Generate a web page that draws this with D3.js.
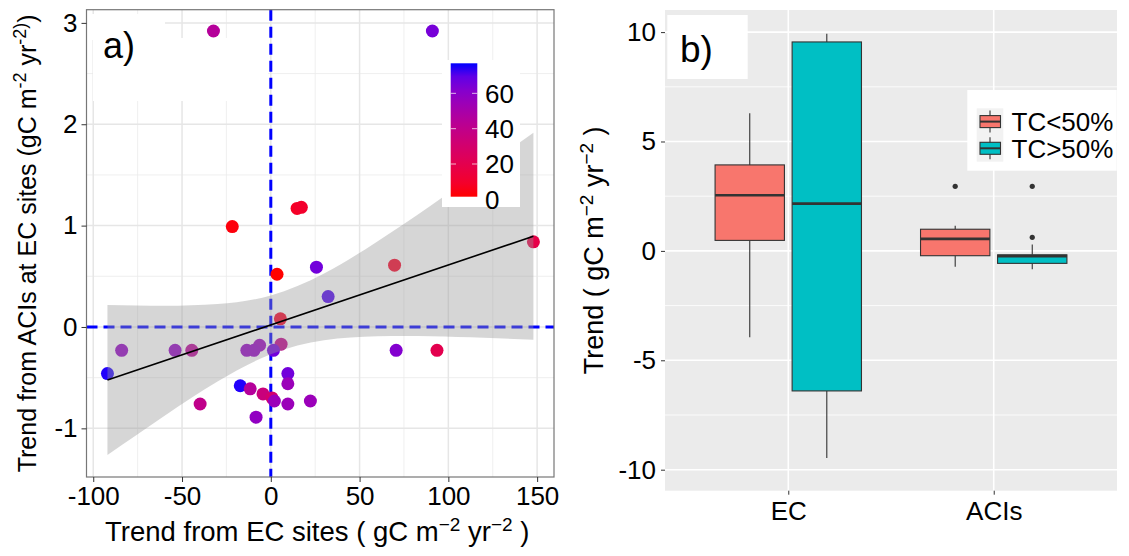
<!DOCTYPE html>
<html>
<head>
<meta charset="utf-8">
<script src="https://cdn.jsdelivr.net/npm/d3@7"></script>
<style>
  html, body { margin: 0; padding: 0; background: #fff; }
  svg text { font-family: "Liberation Sans", Arial, sans-serif; fill: #000; }
</style>
</head>
<body>
<div id="chart"></div>
<script>
// ---- panel a: trend from EC sites vs trend from ACIs, coloured by tree cover
var ecTrend   = [-32.3, 91, 14.8, 17.2, -21.7, 147.9, 69.7, 25.7, 3.5, 32.3, 5.4, 5.8, -6.3, -84, -53.9, -44.5, -13.5, -9.5, 1.5, 70.6, 93.6, -92, 9.6, 9.6, -17.2, -11.6, -4.4, 0.7, 2, 22.3, -39.8, 9.6, -8.3];
var aciTrend  = [2.92, 2.92, 1.17, 1.18, 0.99, 0.84, 0.61, 0.59, 0.52, 0.30, 0.08, -0.17, -0.18, -0.23, -0.23, -0.23, -0.23, -0.23, -0.23, -0.23, -0.23, -0.46, -0.46, -0.56, -0.58, -0.61, -0.66, -0.70, -0.73, -0.73, -0.76, -0.76, -0.89];
var treeCover = [45, 65, 8, 10, 3, 18, 8, 66, 1, 72, 8, 40, 56, 58, 58, 44, 58, 58, 66, 62, 20, 76, 66, 55, 76, 45, 35, 30, 55, 55, 40, 55, 58];

// fitted line and its confidence band
var fitX = [-92, 147.9];
var fitY = [-0.523, 0.895];
var bandX    = [-92, -60, -30, 0, 30, 60, 90, 120, 147.9];
var bandLow  = [-1.263, -0.877, -0.538, -0.269, -0.131, -0.092, -0.091, -0.106, -0.125];
var bandHigh = [0.217, 0.209, 0.226, 0.311, 0.527, 0.844, 1.197, 1.566, 1.915];

var xTicksA = [-100, -50, 0, 50, 100, 150];
var xMinorA = [-75, -25, 25, 75, 125];
var yTicksA = [-1, 0, 1, 2, 3];
var yMinorA = [-0.5, 0.5, 1.5, 2.5];
var colorTicks = [0, 20, 40, 60];

// ---- panel b: boxplots of trends by tree cover class
var categories = ["EC", "ACIs"];
var seriesNames = ["TC<50%", "TC>50%"];
var lowTcMin = [-3.95, -0.73], lowTcQ1 = [0.48, -0.22], lowTcMed = [2.54, 0.55], lowTcQ3 = [3.93, 0.99], lowTcMax = [6.29, 1.15];
var highTcMin = [-9.47, -0.84], highTcQ1 = [-6.4, -0.57], highTcMed = [2.16, -0.24], highTcQ3 = [9.55, -0.18], highTcMax = [9.92, 0.29];
var lowTcOut = [[], [2.95]];
var highTcOut = [[], [2.95, 0.62]];
var yTicksB = [-10, -5, 0, 5, 10];
var yMinorB = [-7.5, -2.5, 2.5, 7.5];
var seriesFill = ["#F8766D", "#00BFC4"];

var svg = d3.select("#chart").append("svg")
  .attr("width", 1129)
  .attr("height", 556);

// writes a label with plotmath-like superscripts
function supLabel(sel, parts, size) {
  var up = Math.round(size * 0.38);
  parts.forEach(function(p, i) {
    var t = sel.append("tspan").text(p[0]);
    if (p[1]) {
      t.attr("font-size", Math.round(size * 0.7)).attr("dy", -up);
    } else if (i > 0 && parts[i - 1][1]) {
      // back to the baseline after a superscript
      t.attr("dy", up);
    }
  });
}

// ****************** panel a ***************************
function drawPanelA() {
  var left = 86.5, right = 554, top = 9.7, bottom = 477;

  var x = d3.scaleLinear().domain([-103.8, 159.5]).range([left, right]);
  var y = d3.scaleLinear().domain([-1.48, 3.13]).range([bottom, top]);
  var color = d3.scaleLinear().domain([1.5, 77]).range(["red", "blue"]).interpolate(d3.interpolateLab);

  var g = svg.append("g");

  // grid
  g.selectAll("line.minx").data(xMinorA).enter().append("line")
    .attr("x1", d => x(d)).attr("x2", d => x(d)).attr("y1", top).attr("y2", bottom)
    .attr("stroke", "#ebebeb").attr("stroke-width", 0.8);
  g.selectAll("line.miny").data(yMinorA).enter().append("line")
    .attr("x1", left).attr("x2", right).attr("y1", d => y(d)).attr("y2", d => y(d))
    .attr("stroke", "#ebebeb").attr("stroke-width", 0.8);
  g.selectAll("line.majx").data(xTicksA).enter().append("line")
    .attr("x1", d => x(d)).attr("x2", d => x(d)).attr("y1", top).attr("y2", bottom)
    .attr("stroke", "#e6e6e6").attr("stroke-width", 1.5);
  g.selectAll("line.majy").data(yTicksA).enter().append("line")
    .attr("x1", left).attr("x2", right).attr("y1", d => y(d)).attr("y2", d => y(d))
    .attr("stroke", "#e6e6e6").attr("stroke-width", 1.5);

  // white label boxes
  g.append("rect").attr("x", 87).attr("y", 14).attr("width", 78).attr("height", 26).attr("fill", "#fff");
  g.append("rect").attr("x", 93).attr("y", 38).attr("width", 175).attr("height", 63).attr("fill", "#fff");

  // zero lines
  g.append("line").attr("x1", x(0)).attr("x2", x(0)).attr("y1", top).attr("y2", bottom)
    .attr("stroke", "blue").attr("stroke-width", 3).attr("stroke-dasharray", "11,6");
  g.append("line").attr("x1", left).attr("x2", right).attr("y1", y(0)).attr("y2", y(0))
    .attr("stroke", "blue").attr("stroke-width", 3).attr("stroke-dasharray", "11,6");

  // points
  g.selectAll("circle.pt").data(d3.range(ecTrend.length)).enter().append("circle")
    .attr("cx", i => x(ecTrend[i]))
    .attr("cy", i => y(aciTrend[i]))
    .attr("r", 6.5)
    .attr("fill", i => color(treeCover[i]));

  // confidence band and fitted line
  var area = d3.area()
    .x(i => x(bandX[i])).y0(i => y(bandLow[i])).y1(i => y(bandHigh[i]))
    .curve(d3.curveNatural);
  g.append("path").attr("d", area(d3.range(bandX.length)))
    .attr("fill", "#999999").attr("fill-opacity", 0.4);
  g.append("line")
    .attr("x1", x(fitX[0])).attr("y1", y(fitY[0]))
    .attr("x2", x(fitX[1])).attr("y2", y(fitY[1]))
    .attr("stroke", "#000").attr("stroke-width", 1.6);

  // colour bar legend
  var cb = d3.scaleLinear().domain([1.5, 77]).range([196.7, 63.3]);
  g.append("rect").attr("x", 442).attr("y", 60).attr("width", 78).attr("height", 147).attr("fill", "#fff");
  var grad = svg.append("defs").append("linearGradient").attr("id", "tcgrad")
    .attr("x1", 0).attr("y1", 1).attr("x2", 0).attr("y2", 0);
  d3.range(0, 11).forEach(function(k) {
    grad.append("stop").attr("offset", k / 10).attr("stop-color", color(1.5 + k * 7.55));
  });
  g.append("rect").attr("x", 450.7).attr("y", 63.3).attr("width", 26.6).attr("height", 133.4)
    .attr("fill", "url(#tcgrad)");
  colorTicks.filter(d => d > 0).forEach(function(d) {
    g.append("line").attr("x1", 450.7).attr("x2", 456).attr("y1", cb(d)).attr("y2", cb(d))
      .attr("stroke", "#fff").attr("stroke-opacity", 0.7);
    g.append("line").attr("x1", 472).attr("x2", 477.3).attr("y1", cb(d)).attr("y2", cb(d))
      .attr("stroke", "#fff").attr("stroke-opacity", 0.7);
  });
  g.selectAll("text.cb").data(colorTicks).enter().append("text")
    .attr("x", 485).attr("y", d => cb(d)).attr("dy", "0.36em")
    .attr("font-size", 26).text(d => d);

  // border
  g.append("rect").attr("x", left).attr("y", top).attr("width", right - left).attr("height", bottom - top)
    .attr("fill", "none").attr("stroke", "#777").attr("stroke-width", 1.2);

  // axes
  var xAxis = g.append("g").attr("transform", "translate(0," + bottom + ")")
    .call(d3.axisBottom(x).tickValues(xTicksA).tickSize(5).tickSizeOuter(0).tickPadding(4));
  var yAxis = g.append("g").attr("transform", "translate(" + left + ",0)")
    .call(d3.axisLeft(y).tickValues(yTicksA).tickSize(5).tickSizeOuter(0).tickPadding(4));
  [xAxis, yAxis].forEach(function(a) {
    a.select(".domain").remove();
    a.selectAll(".tick line").attr("stroke", "#333");
    a.selectAll("text").attr("font-size", 26).attr("fill", "#000")
      .attr("font-family", "'Liberation Sans', Arial, sans-serif")
      .text(d => d < 0 ? "-" + Math.abs(d) : d);
  });
  xAxis.selectAll("text").attr("dy", "0.72em");

  g.append("text").attr("x", 103).attr("y", 58).attr("font-size", 36).text("a)");

  // axis titles
  var xt = g.append("text").attr("x", (left + right) / 2 - 3).attr("y", 541)
    .attr("text-anchor", "middle").attr("font-size", 27.5).style("white-space", "pre");
  supLabel(xt, [["Trend from EC sites ( gC m"], ["\u22122", true], [" yr"], ["\u22122", true], [" )"]], 27.5);

  var yt = g.append("text").attr("transform", "translate(36," + (top + bottom) / 2 + ") rotate(-90)")
    .attr("text-anchor", "middle").attr("font-size", 25).style("white-space", "pre");
  supLabel(yt, [["Trend from ACIs at EC sites (gC m"], ["-2", true], [" yr"], ["-2)", true], [")"]], 25);
}

// ****************** panel b ***************************
function drawPanelB() {
  var left = 665, right = 1117, top = 10, bottom = 490.7;

  var x = d3.scalePoint().domain(categories).range([left, right]).padding(0.6);
  var y = d3.scaleLinear().domain([-10.96, 11.01]).range([bottom, top]);
  var step = x.step();

  var g = svg.append("g");

  g.append("rect").attr("x", left).attr("y", top).attr("width", right - left).attr("height", bottom - top)
    .attr("fill", "#ebebeb");
  g.selectAll("line.miny").data(yMinorB).enter().append("line")
    .attr("x1", left).attr("x2", right).attr("y1", d => y(d)).attr("y2", d => y(d))
    .attr("stroke", "#fff").attr("stroke-width", 0.8);
  g.selectAll("line.majy").data(yTicksB).enter().append("line")
    .attr("x1", left).attr("x2", right).attr("y1", d => y(d)).attr("y2", d => y(d))
    .attr("stroke", "#fff").attr("stroke-width", 1.6);
  g.selectAll("line.majx").data(categories).enter().append("line")
    .attr("x1", d => x(d)).attr("x2", d => x(d)).attr("y1", top).attr("y2", bottom)
    .attr("stroke", "#fff").attr("stroke-width", 1.6);

  // white box behind the label
  g.append("rect").attr("x", 667.3).attr("y", 15).attr("width", 80.4).attr("height", 64).attr("fill", "#fff");
  g.append("text").attr("x", 680).attr("y", 61.5).attr("font-size", 37).text("b)");

  var stats = [
    { min: lowTcMin, q1: lowTcQ1, med: lowTcMed, q3: lowTcQ3, max: lowTcMax, out: lowTcOut },
    { min: highTcMin, q1: highTcQ1, med: highTcMed, q3: highTcQ3, max: highTcMax, out: highTcOut }
  ];
  var boxW = 0.3375 * step;

  stats.forEach(function(s, si) {
    var off = (si === 0 ? -0.1875 : 0.1875) * step;
    categories.forEach(function(c, ci) {
      var cx = x(c) + off;
      g.append("line").attr("x1", cx).attr("x2", cx).attr("y1", y(s.max[ci])).attr("y2", y(s.q3[ci]))
        .attr("stroke", "#333").attr("stroke-width", 1.1);
      g.append("line").attr("x1", cx).attr("x2", cx).attr("y1", y(s.q1[ci])).attr("y2", y(s.min[ci]))
        .attr("stroke", "#333").attr("stroke-width", 1.1);
      g.append("rect").attr("x", cx - boxW / 2).attr("y", y(s.q3[ci]))
        .attr("width", boxW).attr("height", y(s.q1[ci]) - y(s.q3[ci]))
        .attr("fill", seriesFill[si]).attr("stroke", "#333").attr("stroke-width", 1.1);
      g.append("line").attr("x1", cx - boxW / 2).attr("x2", cx + boxW / 2)
        .attr("y1", y(s.med[ci])).attr("y2", y(s.med[ci]))
        .attr("stroke", "#333").attr("stroke-width", 2.6);
      s.out[ci].forEach(function(v) {
        g.append("circle").attr("cx", cx).attr("cy", y(v)).attr("r", 2.6).attr("fill", "#333");
      });
    });
  });

  // legend
  g.append("rect").attr("x", 967.3).attr("y", 90).attr("width", 149.4).attr("height", 80.7).attr("fill", "#fff");
  seriesNames.forEach(function(name, i) {
    var ky = 108.3 + i * 26.7, yc = ky + 13.3;
    g.append("rect").attr("x", 976.7).attr("y", ky).attr("width", 26.6).attr("height", 26.7).attr("fill", "#f2f2f2");
    g.append("line").attr("x1", 990).attr("x2", 990).attr("y1", yc - 11).attr("y2", yc + 11)
      .attr("stroke", "#333").attr("stroke-width", 1.1);
    g.append("rect").attr("x", 980).attr("y", yc - 6).attr("width", 20.5).attr("height", 12)
      .attr("fill", seriesFill[i]).attr("stroke", "#333").attr("stroke-width", 1.1);
    g.append("line").attr("x1", 980).attr("x2", 1000.5).attr("y1", yc).attr("y2", yc)
      .attr("stroke", "#333").attr("stroke-width", 2);
    g.append("text").attr("x", 1011.5).attr("y", yc).attr("dy", "0.36em")
      .attr("font-size", 26).text(name);
  });

  // axes
  var xAxis = g.append("g").attr("transform", "translate(0," + bottom + ")")
    .call(d3.axisBottom(x).tickSize(4).tickSizeOuter(0).tickPadding(7));
  var yAxis = g.append("g").attr("transform", "translate(" + left + ",0)")
    .call(d3.axisLeft(y).tickValues(yTicksB).tickSize(4).tickSizeOuter(0).tickPadding(5));
  [xAxis, yAxis].forEach(function(a) {
    a.select(".domain").remove();
    a.selectAll(".tick line").attr("stroke", "#333");
    a.selectAll("text").attr("font-size", 26).attr("fill", "#000")
      .attr("font-family", "'Liberation Sans', Arial, sans-serif");
  });
  xAxis.selectAll("text").attr("dy", "0.72em");
  yAxis.selectAll("text").text(d => d < 0 ? "-" + Math.abs(d) : d);

  var yt = g.append("text").attr("transform", "translate(603," + (top + bottom) / 2 + ") rotate(-90)")
    .attr("text-anchor", "middle").attr("font-size", 27).style("white-space", "pre");
  supLabel(yt, [["Trend ( gC m"], ["\u22122", true], [" yr"], ["\u22122", true], [" )"]], 27);
}

drawPanelA();
drawPanelB();
</script>
</body>
</html>
